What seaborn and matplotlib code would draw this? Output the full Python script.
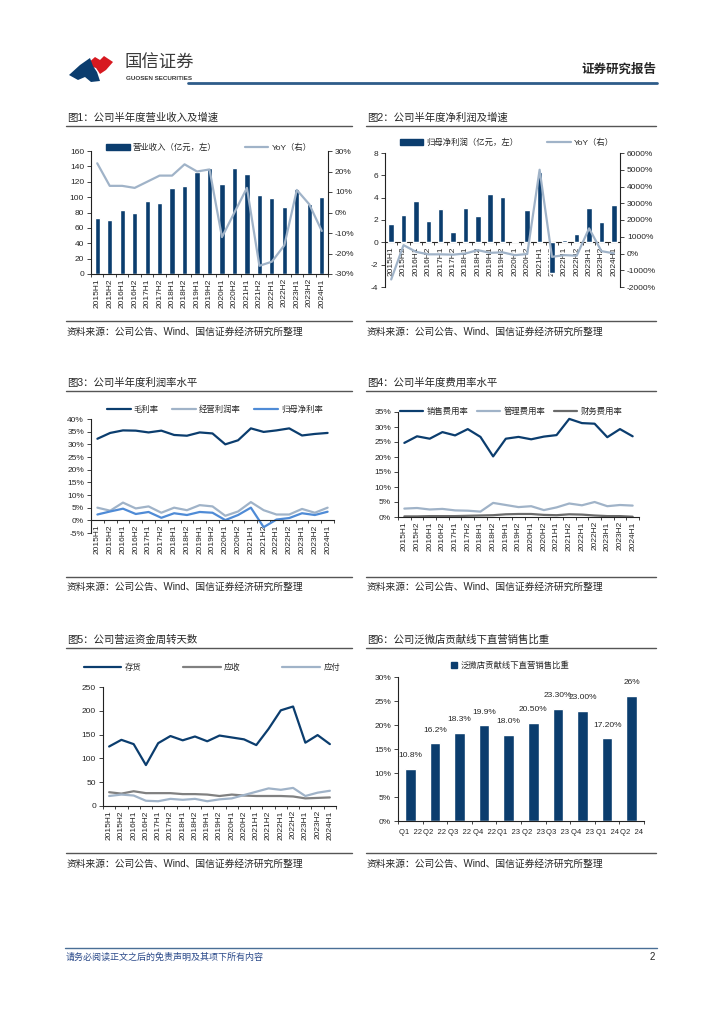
import numpy as np
import pandas as pd
import matplotlib
matplotlib.use('Agg')
import matplotlib.pyplot as plt
import seaborn as sns
from matplotlib.lines import Line2D
from matplotlib.patches import Patch, Polygon
from matplotlib.ticker import FuncFormatter

# ---- data ----
halves = ['2015H1', '2015H2', '2016H1', '2016H2', '2017H1', '2017H2', '2018H1', '2018H2',
          '2019H1', '2019H2', '2020H1', '2020H2', '2021H1', '2021H2', '2022H1', '2022H2',
          '2023H1', '2023H2', '2024H1']

revenue = [73, 70, 83, 79, 95, 92, 112, 114, 133, 138, 117, 138, 130, 103, 99, 87, 110, 91, 100]
revenue_yoy = [24, 13, 13, 12, 15, 18, 18, 23.5, 20, 21, -12, 0, 12, -26, -24, -16, 11, 4, -9]

profit = [1.65, 2.45, 3.7, 1.9, 3.0, 0.95, 3.05, 2.35, 4.3, 4.05, 0.1, 2.9, 6.3, -2.75, 0.2, 0.75,
          3.05, 1.8, 3.35]
profit_yoy = [-1550, 500, 100, -50, -50, -70, 0, 200, 40, 70, -100, -30, 5000, -200, -97, -130,
              1500, 140, 10]

gross_margin = [32.2, 34.5, 35.5, 35.4, 34.7, 35.4, 33.7, 33.4, 34.7, 34.3, 30.0, 31.6, 36.3, 34.9,
                35.5, 36.3, 33.5, 34.1, 34.5]
op_margin = [5.0, 3.8, 7.0, 4.7, 5.5, 3.0, 5.0, 4.0, 6.0, 5.5, 1.8, 3.5, 7.2, 4.0, 2.3, 2.3, 4.5,
             3.0, 5.0]
net_margin = [2.3, 3.5, 4.6, 2.5, 3.3, 1.0, 2.8, 2.1, 3.3, 3.0, 0.1, 2.1, 5.0, -2.7, 0.3, 0.9, 2.8,
              2.1, 3.4]

sell_rate = [24.7, 26.9, 26.1, 28.3, 27.2, 29.3, 26.7, 20.2, 26.1, 26.7, 25.9, 26.8, 27.3, 32.7,
             31.3, 31.1, 26.6, 29.3, 26.9]
admin_rate = [2.8, 3.0, 2.5, 2.7, 2.2, 2.1, 1.8, 4.7, 4.0, 3.3, 3.6, 2.3, 3.2, 4.5, 3.9, 5.0, 3.6,
              4.0, 3.8]
fin_rate = [0.2, 0.2, 0.3, 0.3, 0.3, 0.4, 0.5, 0.6, 0.9, 1.0, 1.0, 0.7, 0.6, 0.9, 0.8, 0.5, 0.3,
            0.3, 0.1]

inv_days = [125, 139, 130, 86, 132, 147, 138, 146, 136, 148, 144, 140, 128, 162, 201, 209, 133,
            149, 130]
ar_days = [29, 26, 31, 27, 27, 27, 25, 25, 24, 21, 24, 22, 21, 21, 21, 20, 16, 17, 18]
ap_days = [21, 24, 22, 11, 10, 15, 13, 15, 10, 14, 16, 23, 30, 37, 34, 38, 21, 28, 32]

quarters = ['Q1  22', 'Q2  22', 'Q3  22', 'Q4  22', 'Q1  23', 'Q2  23', 'Q3  23',
            'Q4  23', 'Q1  24', 'Q2  24']
store_share = [10.8, 16.2, 18.3, 19.9, 18.0, 20.5, 23.3, 23.0, 17.2, 26.0]
store_share_text = ['10.8%', '16.2%', '18.3%', '19.9%', '18.0%', '20.50%', '23.30%', '23.00%',
                    '17.20%', '26%']

# ---- style ----
sns.set_style('ticks')
plt.rcParams['font.family'] = ['Liberation Sans', 'Noto Sans CJK SC', 'DejaVu Sans']
plt.rcParams['axes.unicode_minus'] = False

navy = '#0B3D6E'
light = '#A0B3C8'
blue = '#4F8BD6'
grey = '#808080'
dgrey = '#6A6A6A'

W, H = 724, 1024
fig = plt.figure(figsize=(W / 100, H / 100), dpi=100)


def box(l, t, r, b):
    return [l / W, 1 - b / H, (r - l) / W, (b - t) / H]


def pct(v, pos):
    return f'{v:.0f}%'


def style(ax, zero_axis=False):
    sns.despine(ax=ax)
    for s in ['left', 'bottom']:
        ax.spines[s].set_linewidth(0.8)
        ax.spines[s].set_color('#222222')
    ax.tick_params(axis='y', labelsize=6, length=3, width=0.6, pad=2)
    ax.tick_params(axis='x', which='major', labelsize=6, length=0, pad=3, rotation=90)
    ax.set_xticks(np.arange(-0.5, len(halves), 1), minor=True)
    ax.tick_params(axis='x', which='minor', length=2.5, width=0.6)
    ax.set_xlim(-0.5, len(halves) - 0.5)
    ax.set_xlabel('')
    ax.set_ylabel('')
    if zero_axis:
        ax.spines['bottom'].set_position(('data', 0))


def right_axis(ax):
    for s in ['left', 'top', 'bottom']:
        ax.spines[s].set_visible(False)
    ax.spines['right'].set_visible(True)
    ax.spines['right'].set_linewidth(0.8)
    ax.spines['right'].set_color('#222222')
    ax.tick_params(axis='y', labelsize=6, length=3, width=0.6, pad=2)
    ax.set_ylabel('')


def legend(handles, labels, cx, cy, spacing=1.0, hl=2.8):
    fig.legend(handles, labels, loc='center', bbox_to_anchor=(cx / W, 1 - cy / H),
               ncol=len(handles), frameon=False, fontsize=6, handlelength=hl,
               handletextpad=0.4, columnspacing=spacing, borderaxespad=0)


# ---- page furniture ----
page = fig.add_axes([0, 0, 1, 1])
page.set_xlim(0, W)
page.set_ylim(H, 0)
page.axis('off')

page.add_patch(Polygon([(86, 65), (95, 57), (100, 60), (104, 56), (113, 62), (106, 70),
                        (100, 74), (96, 68)], closed=True, color='#D71920', lw=0))
page.add_patch(Polygon([(69, 75), (80, 65), (90, 58), (93, 66), (97, 72), (100, 81), (91, 82),
                        (85, 77), (78, 80)], closed=True, color='#0B3D6E', lw=0))
page.text(125, 63, '国信证券', fontsize=12.5, color='#3a3a3a', va='center', ha='left')
page.text(126, 78, 'GUOSEN SECURITIES', fontsize=4.5, color='#3a3a3a', va='center',
          ha='left', fontweight='bold')
page.text(656, 70, '证券研究报告', fontsize=9, fontweight='bold', ha='right', va='center')
page.plot([188, 657], [83, 83], color='#2E5C8A', lw=2)

page.plot([65, 657], [948, 948], color='#4a6f96', lw=1)
page.text(66, 957, '请务必阅读正文之后的免责声明及其项下所有内容', fontsize=6.5,
          color='#2b4a8a', va='center', ha='left', style='italic')
page.text(655, 957, '2', fontsize=7, va='center', ha='right')

titles = ['图1：公司半年度营业收入及增速', '图2：公司半年度净利润及增速',
          '图3：公司半年度利润率水平', '图4：公司半年度费用率水平',
          '图5：公司营运资金周转天数', '图6：公司泛微店贡献线下直营销售比重']
src = '资料来源：公司公告、Wind、国信证券经济研究所整理'
rows = [(118, 126, 321, 332), (383, 391, 577, 587), (640, 648, 853, 864)]
cols = [(66, 352), (366, 656)]
for i, (ty, ly, sy, st) in enumerate(rows):
    for j, (x0, x1) in enumerate(cols):
        page.text(x0 + 1, ty, titles[i * 2 + j], fontsize=7.5, va='center', ha='left')
        page.plot([x0, x1], [ly, ly], color='#555555', lw=1)
        page.plot([x0, x1], [sy, sy], color='#555555', lw=1)
        page.text(x0 + 1, st, src, fontsize=7, va='center', ha='left')

# ---- 图1 ----
ax1 = fig.add_axes(box(91, 151, 328, 274))
sns.barplot(x=halves, y=revenue, color=navy, saturation=1, width=0.42, ax=ax1)
style(ax1)
ax1.set_ylim(0, 160)
ax1.set_yticks(range(0, 161, 20))
ax1b = ax1.twinx()
sns.lineplot(x=halves, y=revenue_yoy, color=light, lw=1.6, ax=ax1b)
right_axis(ax1b)
ax1b.set_ylim(-30, 30)
ax1b.set_yticks(range(-30, 31, 10))
ax1b.yaxis.set_major_formatter(FuncFormatter(pct))
ax1.set_xlim(-0.5, len(halves) - 0.5)
legend([Patch(color=navy), Line2D([], [], color=light, lw=1.6)],
       ['营业收入（亿元，左）', 'YoY（右）'], 209, 148, spacing=3.4)

# ---- 图2 ----
ax2 = fig.add_axes(box(385, 153, 620, 287))
sns.barplot(x=halves, y=profit, color=navy, saturation=1, width=0.45, ax=ax2, zorder=3)
style(ax2, zero_axis=True)
ax2.xaxis.set_zorder(0.5)
ax2.set_ylim(-4, 8)
ax2.set_yticks(range(-4, 9, 2))
ax2b = ax2.twinx()
sns.lineplot(x=halves, y=profit_yoy, color=light, lw=1.6, ax=ax2b)
right_axis(ax2b)
ax2b.set_ylim(-2000, 6000)
ax2b.set_yticks(range(-2000, 6001, 1000))
ax2b.yaxis.set_major_formatter(FuncFormatter(pct))
ax2.set_xlim(-0.5, len(halves) - 0.5)
legend([Patch(color=navy), Line2D([], [], color=light, lw=1.6)],
       ['归母净利润（亿元，左）', 'YoY（右）'], 507, 143, spacing=3.4)

# ---- 图3 ----
ax3 = fig.add_axes(box(91, 419, 334, 533))
sns.lineplot(x=halves, y=gross_margin, color=navy, lw=1.6, ax=ax3)
sns.lineplot(x=halves, y=op_margin, color=light, lw=1.6, ax=ax3)
sns.lineplot(x=halves, y=net_margin, color=blue, lw=1.6, ax=ax3)
style(ax3, zero_axis=True)
ax3.set_ylim(-5, 40)
ax3.set_yticks(range(-5, 41, 5))
ax3.yaxis.set_major_formatter(FuncFormatter(pct))
legend([Line2D([], [], color=c, lw=1.6) for c in (navy, light, blue)],
       ['毛利率', '经营利润率', '归母净利率'], 215, 410, spacing=1.6)

# ---- 图4 ----
ax4 = fig.add_axes(box(398, 412, 639, 517))
sns.lineplot(x=halves, y=sell_rate, color=navy, lw=1.6, ax=ax4)
sns.lineplot(x=halves, y=admin_rate, color=light, lw=1.6, ax=ax4)
sns.lineplot(x=halves, y=fin_rate, color=dgrey, lw=1.6, ax=ax4)
style(ax4)
ax4.set_ylim(0, 35)
ax4.set_yticks(range(0, 36, 5))
ax4.yaxis.set_major_formatter(FuncFormatter(pct))
legend([Line2D([], [], color=c, lw=1.6) for c in (navy, light, dgrey)],
       ['销售费用率', '管理费用率', '财务费用率'], 511, 412, spacing=1.0)

# ---- 图5 ----
ax5 = fig.add_axes(box(103, 687, 336, 806))
sns.lineplot(x=halves, y=inv_days, color=navy, lw=1.6, ax=ax5)
sns.lineplot(x=halves, y=ar_days, color=grey, lw=1.6, ax=ax5)
sns.lineplot(x=halves, y=ap_days, color=light, lw=1.6, ax=ax5)
style(ax5)
ax5.set_ylim(0, 250)
ax5.set_yticks(range(0, 251, 50))
legend([Line2D([], [], color=c, lw=1.6) for c in (navy, grey, light)],
       ['存货', '应收', '应付'], 212, 668, spacing=5.0, hl=4.5)

# ---- 图6 ----
ax6 = fig.add_axes(box(398, 677, 644, 821))
sns.barplot(x=quarters, y=store_share, color=navy, saturation=1, width=0.43, ax=ax6)
sns.despine(ax=ax6)
for s in ['left', 'bottom']:
    ax6.spines[s].set_linewidth(0.8)
    ax6.spines[s].set_color('#222222')
ax6.set_ylim(0, 30)
ax6.set_yticks(range(0, 31, 5))
ax6.yaxis.set_major_formatter(FuncFormatter(pct))
ax6.tick_params(axis='y', labelsize=6, length=3, width=0.6, pad=2)
ax6.tick_params(axis='x', which='major', labelsize=5.5, length=0, pad=6)
ax6.set_xticks(np.arange(-0.5, len(quarters), 1), minor=True)
ax6.tick_params(axis='x', which='minor', length=2.5, width=0.6)
ax6.set_xlim(-0.5, len(quarters) - 0.5)
ax6.set_xlabel('')
ax6.set_ylabel('')
ax6.bar_label(ax6.containers[0], labels=store_share_text, fontsize=6, padding=7)
legend([Patch(color=navy)], ['泛微店贡献线下直营销售比重'], 510, 666, hl=0.8)

fig.savefig('out.png', dpi=100)
